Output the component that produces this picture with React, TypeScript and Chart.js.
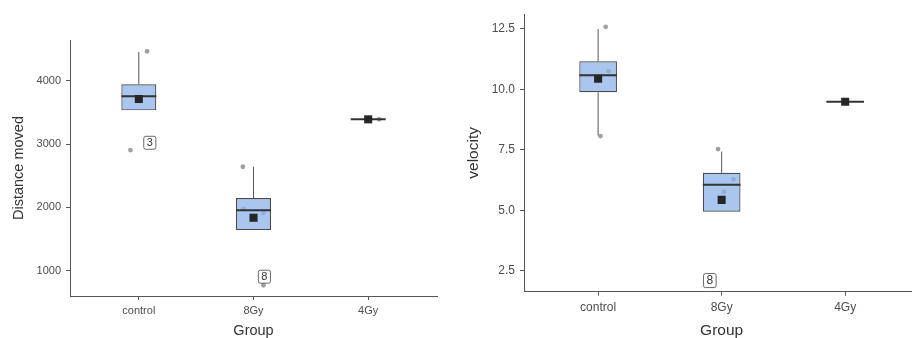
import React, { useEffect, useRef } from 'react';
import { Chart, registerables } from 'chart.js';
Chart.register(...registerables);

const FONT = '"Liberation Sans", Arial, sans-serif';

const groups = ['control', '8Gy', '4Gy'];

// Distance moved
const distQ1 = [3532, 1641, 3390];
const distMedian = [3754, 1953, 3390];
const distQ3 = [3943, 2147, 3390];
const distWhiskerLow = [3532, 1641, 3390];
const distWhiskerHigh = [4453, 2641, 3390];
const distMean = [3711, 1836, 3390];
const distPointX = [1.072, 0.927, 1.907, 1.913, 2.087, 2.087, 3.096];
const distPointY = [4464, 2905, 2641, 1973, 1915, 770, 3390];
const distLabelText = ['3', '8'];
const distLabelX = [1.096, 2.095];
const distLabelY = [3020, 905];
const distTicks = [1000, 2000, 3000, 4000];

// velocity
const velQ1 = [9.88, 4.94, 9.49];
const velMedian = [10.59, 6.05, 9.49];
const velQ3 = [11.16, 6.55, 9.49];
const velWhiskerLow = [8.08, 4.94, 9.49];
const velWhiskerHigh = [12.5, 7.43, 9.49];
const velMean = [10.44, 5.43, 9.49];
const velPointX = [1.061, 1.019, 1.085, 1.971, 2.096, 2.019, 1.904];
const velPointY = [12.59, 8.07, 10.76, 7.53, 6.28, 5.77, 2.15];
const velLabelText = ['8'];
const velLabelX = [1.904];
const velLabelY = [2.09];
const velTicks = [2.5, 5, 7.5, 10, 12.5];

type PanelSpec = {
  q1: number[]; median: number[]; q3: number[]; wLow: number[]; wHigh: number[]; mean: number[];
  px: number[]; py: number[]; lt: string[]; lx: number[]; ly: number[]; ticks: number[];
  yMin: number; yMax: number; yTitle: string; fmt: (v: number) => string;
  tickSize: number; titleSize: number; padLeft: number; padTop: number; padRight: number;
  yWidth: number; xHeight: number; tickPadX: number;
};

function makePlugin(s: PanelSpec) {
  return {
    id: 'boxplotExtras',
    beforeDatasetsDraw(chart: any) {
      const { ctx, scales } = chart;
      const xs = scales.x, ys = scales.y;
      ctx.save();
      ctx.strokeStyle = '#555';
      ctx.lineWidth = 1;
      groups.forEach((_, i) => {
        const x = xs.getPixelForValue(i + 1);
        if (s.wHigh[i] > s.q3[i]) {
          ctx.beginPath();
          ctx.moveTo(x, ys.getPixelForValue(s.q3[i]));
          ctx.lineTo(x, ys.getPixelForValue(s.wHigh[i]));
          ctx.stroke();
        }
        if (s.wLow[i] < s.q1[i]) {
          ctx.beginPath();
          ctx.moveTo(x, ys.getPixelForValue(s.wLow[i]));
          ctx.lineTo(x, ys.getPixelForValue(s.q1[i]));
          ctx.stroke();
        }
      });
      ctx.restore();
    },
    afterDatasetDraw(chart: any, args: any) {
      if (args.index !== 0) return;
      const { ctx, scales } = chart;
      const meta = chart.getDatasetMeta(0);
      ctx.save();
      ctx.strokeStyle = '#333';
      ctx.lineWidth = 2;
      groups.forEach((_, i) => {
        const el = meta.data[i];
        const x = scales.x.getPixelForValue(i + 1);
        const half = el.width / 2;
        const y = scales.y.getPixelForValue(s.median[i]);
        ctx.beginPath();
        ctx.moveTo(x - half, y);
        ctx.lineTo(x + half, y);
        ctx.stroke();
      });
      ctx.restore();
    },
    afterDatasetsDraw(chart: any) {
      const { ctx, scales } = chart;
      ctx.save();
      ctx.font = `${s.tickSize}px ${FONT}`;
      ctx.textAlign = 'center';
      ctx.textBaseline = 'middle';
      s.lt.forEach((t, i) => {
        const x = scales.x.getPixelForValue(s.lx[i]);
        const y = scales.y.getPixelForValue(s.ly[i]);
        const w = ctx.measureText(t).width + 6;
        const h = s.tickSize + 2;
        ctx.beginPath();
        (ctx as any).roundRect(x - w / 2, y - h / 2, w, h, 2);
        ctx.fillStyle = '#fff';
        ctx.fill();
        ctx.strokeStyle = '#444';
        ctx.lineWidth = 0.8;
        ctx.stroke();
        ctx.fillStyle = '#333';
        ctx.fillText(t, x, y + 0.5);
      });
      ctx.restore();
    },
  };
}

function Panel({ s, width, left }: { s: PanelSpec; width: number; left: number }) {
  const ref = useRef<HTMLCanvasElement>(null);
  useEffect(() => {
    const chart = new Chart(ref.current as HTMLCanvasElement, {
      type: 'bar',
      data: {
        datasets: [
          {
            type: 'bar',
            data: groups.map((_, i) => ({ x: i + 1, y: [s.q1[i], s.q3[i]] })) as any,
            backgroundColor: 'rgba(142,178,232,0.75)',
            borderColor: '#4a4a4a',
            borderWidth: 1.2,
            borderSkipped: false,
            barPercentage: 0.305,
            categoryPercentage: 1,
            order: 2,
          } as any,
          {
            type: 'scatter',
            data: s.px.map((x, i) => ({ x, y: s.py[i] })),
            backgroundColor: 'rgba(150,150,150,0.9)',
            borderWidth: 0,
            pointRadius: 2.4,
            order: 3,
          } as any,
          {
            type: 'scatter',
            data: s.mean.map((y, i) => ({ x: i + 1, y })),
            backgroundColor: '#262626',
            borderWidth: 0,
            pointStyle: 'rect',
            pointRadius: 5.7,
            order: 1,
          } as any,
        ],
      },
      options: {
        animation: false,
        responsive: false,
        devicePixelRatio: 1,
        layout: { padding: { left: s.padLeft, top: s.padTop, right: s.padRight, bottom: 0 } },
        plugins: { legend: { display: false }, tooltip: { enabled: false } },
        scales: {
          x: {
            type: 'linear',
            min: 0.4,
            max: 3.6,
            offset: false,
            afterBuildTicks: (sc: any) => {
              sc.ticks = groups.map((_, i) => ({ value: i + 1 }));
            },
            afterFit: (sc: any) => {
              sc.height = s.xHeight;
            },
            ticks: {
              callback: (v: any) => groups[Math.round(Number(v)) - 1] ?? '',
              color: '#4d4d4d',
              font: { family: FONT, size: s.tickSize },
              padding: s.tickPadX,
              maxRotation: 0,
              autoSkip: false,
            },
            grid: { display: true, drawOnChartArea: false, drawTicks: true, tickLength: 4, color: '#555', offset: false },
            border: { display: true, color: '#555', width: 1 },
            title: {
              display: true,
              text: 'Group',
              color: '#333',
              font: { family: FONT, size: s.titleSize, lineHeight: 0.9 },
              padding: 0,
            },
          } as any,
          y: {
            type: 'linear',
            min: s.yMin,
            max: s.yMax,
            afterBuildTicks: (sc: any) => {
              sc.ticks = s.ticks.map((v) => ({ value: v }));
            },
            afterFit: (sc: any) => {
              sc.width = s.yWidth;
            },
            ticks: {
              callback: (v: any) => s.fmt(Number(v)),
              color: '#4d4d4d',
              font: { family: FONT, size: s.tickSize },
              padding: 5,
            },
            grid: { display: true, drawOnChartArea: false, drawTicks: true, tickLength: 4, color: '#555' },
            border: { display: true, color: '#555', width: 1 },
            title: {
              display: true,
              text: s.yTitle,
              color: '#333',
              font: { family: FONT, size: s.titleSize, lineHeight: 1.2 },
              padding: 0,
            },
          } as any,
        },
      },
      plugins: [makePlugin(s)],
    } as any);
    return () => chart.destroy();
  }, []);
  return (
    <div style={{ position: 'absolute', left, top: 0, width, height: 338 }}>
      <canvas ref={ref} width={width} height={338} style={{ display: 'block' }} />
    </div>
  );
}

const distSpec: PanelSpec = {
  q1: distQ1, median: distMedian, q3: distQ3, wLow: distWhiskerLow, wHigh: distWhiskerHigh, mean: distMean,
  px: distPointX, py: distPointY, lt: distLabelText, lx: distLabelX, ly: distLabelY, ticks: distTicks,
  yMin: 600, yMax: 4643, yTitle: 'Distance moved', fmt: (v) => String(v),
  tickSize: 11, titleSize: 14.5, padLeft: 10, padTop: 40, padRight: 13, yWidth: 60, xHeight: 42, tickPadX: 4,
};

const velSpec: PanelSpec = {
  q1: velQ1, median: velMedian, q3: velQ3, wLow: velWhiskerLow, wHigh: velWhiskerHigh, mean: velMean,
  px: velPointX, py: velPointY, lt: velLabelText, lx: velLabelX, ly: velLabelY, ticks: velTicks,
  yMin: 1.63, yMax: 13.12, yTitle: 'velocity', fmt: (v) => v.toFixed(1),
  tickSize: 12, titleSize: 15.5, padLeft: 4, padTop: 14, padRight: 0, yWidth: 60, xHeight: 46.3, tickPadX: 5,
};

export default function App() {
  return (
    <div style={{ position: 'absolute', left: 0, top: 0, width: 912, height: 338, overflow: 'hidden', background: '#fff' }}>
      <Panel s={distSpec} width={450} left={0} />
      <Panel s={velSpec} width={465} left={460} />
    </div>
  );
}
